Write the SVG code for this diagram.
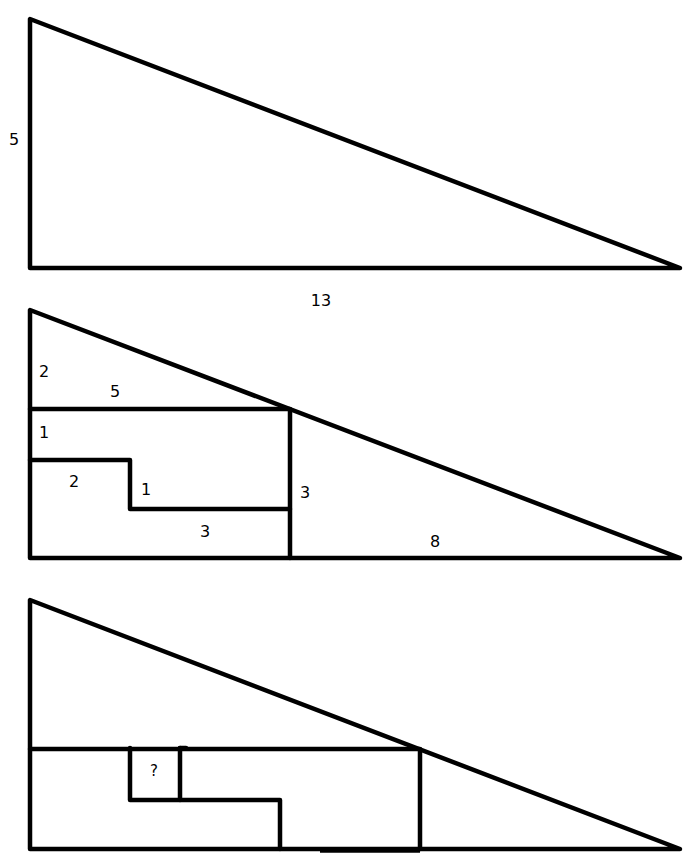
<svg xmlns="http://www.w3.org/2000/svg" width="688" height="861" viewBox="0 0 688 861">
<style>
.l{stroke:#000;stroke-width:4.5;fill:none;stroke-linecap:round;stroke-linejoin:round}
.t{font-family:"DejaVu Sans",sans-serif;font-size:16px;fill:#000;text-anchor:middle;dominant-baseline:central}
</style>
<rect width="688" height="861" fill="#fff"/>
<g id="tri1">
<polygon class="l" points="30,19 30,268 680,268"/>
<text class="t" x="14" y="139">5</text>
<text class="t" x="321" y="300">13</text>
</g>
<g id="tri2">
<polygon class="l" points="30,310 30,558 680,558"/>
<polyline class="l" points="30,409 290,409 290,558"/>
<polyline class="l" points="30,460 130,460 130,509 290,509"/>
<text class="t" x="44" y="371">2</text>
<text class="t" x="115" y="391">5</text>
<text class="t" x="44" y="432">1</text>
<text class="t" x="74" y="481">2</text>
<text class="t" x="146" y="489">1</text>
<text class="t" x="205" y="531">3</text>
<text class="t" x="305" y="492">3</text>
<text class="t" x="435" y="541">8</text>
</g>
<g id="tri3">
<polygon class="l" points="30,600 30,849 680,849"/>
<polyline class="l" points="30,749 420,749 420,849"/>
<polyline class="l" points="130,748 130,800 280,800 280,849"/>
<line class="l" x1="180" y1="748" x2="180" y2="800"/>
<line class="l" x1="180" y1="748" x2="186" y2="748"/>
<line x1="320" y1="850" x2="420" y2="850" stroke="#000" stroke-width="5.5"/>
<text class="t" x="154" y="771" style="font-size:15px">?</text>
</g>
</svg>
